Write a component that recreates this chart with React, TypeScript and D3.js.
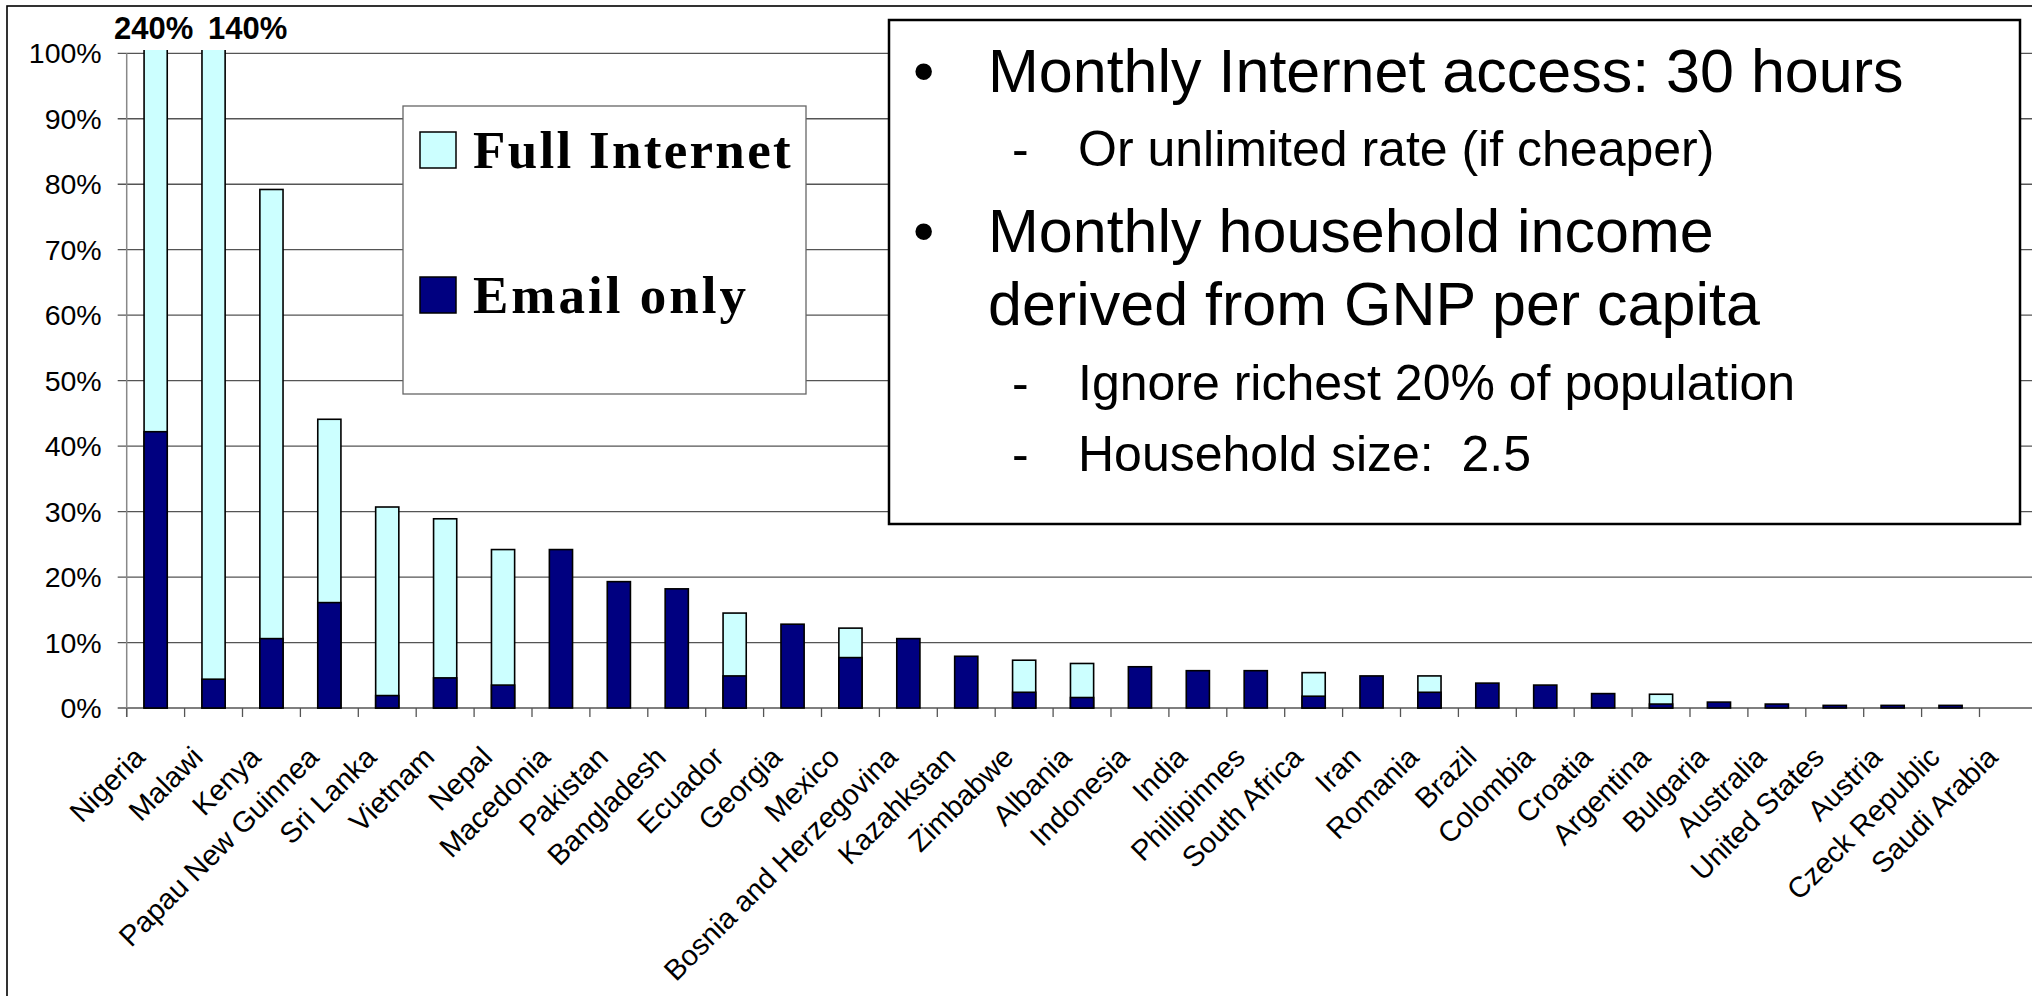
import React from 'react';
import * as d3 from 'd3';

const countries = [
  'Nigeria', 'Malawi', 'Kenya', 'Papau New Guinnea', 'Sri Lanka', 'Vietnam', 'Nepal',
  'Macedonia', 'Pakistan', 'Bangladesh', 'Ecuador', 'Georgia', 'Mexico',
  'Bosnia and Herzegovina', 'Kazahkstan', 'Zimbabwe', 'Albania', 'Indonesia', 'India',
  'Phillipinnes', 'South Africa', 'Iran', 'Romania', 'Brazil', 'Colombia', 'Croatia',
  'Argentina', 'Bulgaria', 'Australia', 'United States', 'Austria', 'Czeck Republic',
  'Saudi Arabia',
];

// % of monthly household income
const fullInternet: (number | null)[] = [
  240, 140, 79.2, 44.1, 30.7, 28.9, 24.2,
  null, null, null, 14.5, null, 12.2,
  null, null, 7.3, 6.8, null, null,
  null, 5.4, null, 4.9, null, null, null,
  2.1, null, null, null, null, null,
  null,
];
const emailOnly = [
  42.2, 4.4, 10.6, 16.1, 1.9, 4.6, 3.5,
  24.2, 19.3, 18.2, 4.9, 12.8, 7.7,
  10.6, 7.9, 2.4, 1.6, 6.3, 5.7,
  5.7, 1.8, 4.9, 2.4, 3.8, 3.5, 2.2,
  0.6, 0.9, 0.6, 0.4, 0.4, 0.4,
  0,
];
const yTicks = [0, 10, 20, 30, 40, 50, 60, 70, 80, 90, 100];

const seriesNames = ['Full Internet', 'Email only'];
const seriesColors = ['#ccffff', '#000080'];

const bullets = [
  { level: 0, lines: ['Monthly Internet access: 30 hours'] },
  { level: 1, lines: ['Or unlimited rate (if cheaper)'] },
  { level: 0, lines: ['Monthly household income', 'derived from GNP per capita'] },
  { level: 1, lines: ['Ignore richest 20% of population'] },
  { level: 1, lines: ['Household size:  2.5'] },
];

const W = 2032;
const H = 996;
const margin = { left: 126.7, top: 53.3, bottom: 708 };
const step = 57.9;

export default function App() {
  const x = d3.scaleBand<string>()
    .domain(countries)
    .range([margin.left, margin.left + countries.length * step])
    .paddingInner(0.6)
    .paddingOuter(0.3);
  const y = d3.scaleLinear().domain([0, 100]).range([margin.bottom, margin.top]);
  const bw = x.bandwidth();
  const plotRight = margin.left + countries.length * step;
  const sans = 'Liberation Sans, Arial, sans-serif';

  // bullet text lines, baselines
  const rows: { text: string; level: number; first: boolean }[] = [];
  bullets.forEach(b => b.lines.forEach((t, i) => rows.push({ text: t, level: b.level, first: i === 0 })));
  const baselines = [92, 166, 252, 325, 400, 471];

  return (
    <svg width={W} height={H} style={{ position: 'absolute', left: 0, top: 0, background: '#fff' }}
      fontFamily={sans}>
      <defs>
        <clipPath id="plotclip">
          <rect x={margin.left} y={50} width={plotRight - margin.left} height={margin.bottom - 50 + 2} />
        </clipPath>
      </defs>
      <rect x={7} y={6} width={W + 100} height={H + 100} fill="#fff" stroke="#000" strokeWidth={1.6} />

      {/* gridlines + y axis */}
      {yTicks.map(t => (
        <g key={t}>
          <line x1={margin.left - 9} x2={plotRight} y1={y(t)} y2={y(t)} stroke="#555" strokeWidth={1.3} />
          <text x={margin.left - 25} y={y(t)} dy="0.35em" textAnchor="end" fontSize={28.5} fill="#000">
            {t}%
          </text>
        </g>
      ))}
      <line x1={margin.left} x2={margin.left} y1={margin.top} y2={margin.bottom + 9} stroke="#888" strokeWidth={1.5} />
      {countries.map((c, i) => (
        <line key={c} x1={margin.left + i * step} x2={margin.left + i * step}
          y1={margin.bottom} y2={margin.bottom + 9} stroke="#555" strokeWidth={1.3} />
      ))}

      {/* bars */}
      <g clipPath="url(#plotclip)">
        {countries.map((c, i) => {
          const f = fullInternet[i];
          const e = emailOnly[i];
          return (
            <g key={c}>
              {f != null && f > 0 && (
                <rect x={x(c)} y={y(f)} width={bw} height={y(0) - y(f)}
                  fill={seriesColors[0]} stroke="#000" strokeWidth={1.6} />
              )}
              {e > 0 && (
                <rect x={x(c)} y={y(e)} width={bw} height={y(0) - y(e)}
                  fill={seriesColors[1]} stroke="#000" strokeWidth={1.6} />
              )}
            </g>
          );
        })}
      </g>

      {/* off-scale values */}
      <text x={(x('Nigeria') ?? 0) + bw / 2 - 2} y={39} textAnchor="middle" fontSize={31} fontWeight="bold">
        {fullInternet[0]}%
      </text>
      <text x={(x('Malawi') ?? 0) + 6} y={39} textAnchor="start" fontSize={31} fontWeight="bold">
        {fullInternet[1]}%
      </text>

      {/* category labels */}
      {countries.map(c => {
        const cx = (x(c) ?? 0) + bw / 2 - 9;
        const cy = 759;
        return (
          <text key={c} x={cx} y={cy} textAnchor="end" fontSize={29}
            transform={`rotate(-45, ${cx}, ${cy})`}>
            {c}
          </text>
        );
      })}

      {/* legend */}
      <rect x={403} y={106} width={403} height={288} fill="#fff" stroke="#666" strokeWidth={1.3} />
      {seriesNames.map((s, i) => (
        <g key={s} transform={`translate(420, ${132 + i * 145})`}>
          <rect width={36} height={36} fill={seriesColors[i]} stroke="#000" strokeWidth={1.5} />
          <text x={53} y={36} fontFamily="Liberation Serif, Times New Roman, serif" fontWeight="bold"
            fontSize={53} letterSpacing={i === 0 ? 2.3 : 3}>
            {s}
          </text>
        </g>
      ))}

      {/* notes box */}
      <rect x={889} y={20} width={1131} height={504} fill="#fff" stroke="#000" strokeWidth={2.5} />
      {rows.map((r, i) => (
        <g key={i}>
          {r.first && (
            <text x={r.level === 0 ? 913 : 1012} y={baselines[i]} fontSize={r.level === 0 ? 61 : 50}>
              {r.level === 0 ? '•' : '-'}
            </text>
          )}
          <text x={r.level === 0 ? 988 : 1078} y={baselines[i]} fontSize={r.level === 0 ? 61 : 50}
            style={{ whiteSpace: 'pre' }}>
            {r.text}
          </text>
        </g>
      ))}
    </svg>
  );
}
